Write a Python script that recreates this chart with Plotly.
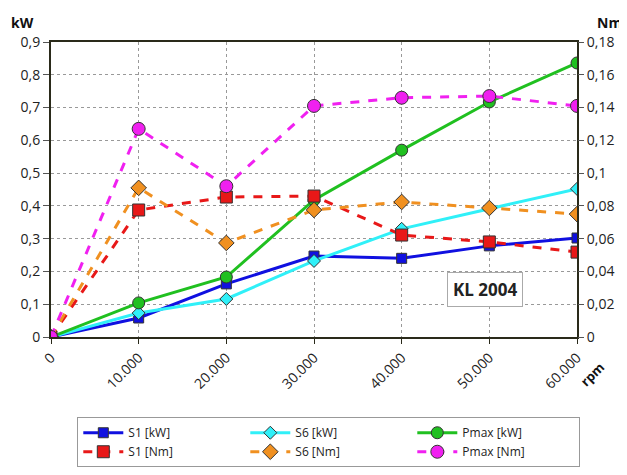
import plotly.graph_objects as go

rpm = [0, 10000, 20000, 30000, 40000, 50000, 60000]
x_ticktext = ["0", "10.000", "20.000", "30.000", "40.000", "50.000", "60.000"]

s1_kw = [0, 0.058, 0.162, 0.247, 0.240, 0.278, 0.302]
s6_kw = [0, 0.073, 0.116, 0.232, 0.330, 0.392, 0.452]
pmax_kw = [0, 0.104, 0.183, 0.418, 0.570, 0.717, 0.836]
s1_nm = [0, 0.0775, 0.0854, 0.086, 0.0622, 0.058, 0.0518]
s6_nm = [0, 0.091, 0.0574, 0.0775, 0.0824, 0.0787, 0.075]
pmax_nm = [0, 0.127, 0.092, 0.141, 0.146, 0.147, 0.141]

kw_tickvals = [0, 0.1, 0.2, 0.3, 0.4, 0.5, 0.6, 0.7, 0.8, 0.9]
kw_ticktext = ["0", "0,1", "0,2", "0,3", "0,4", "0,5", "0,6", "0,7", "0,8", "0,9"]
nm_tickvals = [0, 0.02, 0.04, 0.06, 0.08, 0.1, 0.12, 0.14, 0.16, 0.18]
nm_ticktext = ["0", "0,02", "0,04", "0,06", "0,08", "0,1", "0,12", "0,14", "0,16", "0,18"]

FONT = "Open Sans"
mk_line = dict(color="#333333", width=1)

fig = go.Figure()

def add(name, y, color, symbol, size, dash, yaxis):
    fig.add_trace(go.Scatter(
        x=rpm, y=y, name=name, mode="lines+markers", yaxis=yaxis,
        line=dict(color=color, width=3, dash=dash),
        marker=dict(symbol=symbol, size=size, color=color, line=mk_line),
    ))

add("S1 [kW]", s1_kw, "#1010e0", "square", 10, "solid", "y")
add("S6 [kW]", s6_kw, "#30f0f8", "diamond", 10, "solid", "y")
add("Pmax [kW]", pmax_kw, "#20c020", "circle", 12, "solid", "y")
add("S1 [Nm]", s1_nm, "#e81818", "square", 12, "dash", "y2")
add("S6 [Nm]", s6_nm, "#f09020", "diamond", 12, "dash", "y2")
add("Pmax [Nm]", pmax_nm, "#f020f0", "circle", 13, "dash", "y2")

fig.update_layout(
    width=619, height=467,
    margin=dict(l=43, r=50, t=34, b=138, autoexpand=False),
    paper_bgcolor="white", plot_bgcolor="white",
    font=dict(family=FONT, size=13, color="#222222"),
    showlegend=True,
    legend=dict(
        orientation="h", x=0.05, xanchor="left", y=-0.272, yanchor="top",
        entrywidth=112, entrywidthmode="pixels",
        bordercolor="#999999", borderwidth=1, bgcolor="white",
        font=dict(family=FONT, size=12, color="#222222"),
        tracegroupgap=0, itemwidth=40,
    ),
    xaxis=dict(
        range=[0, 60000], tickvals=rpm, ticktext=x_ticktext, tickangle=-45,
        showline=True, linecolor="#2a2a1a", linewidth=2, mirror=True,
        showgrid=True, gridcolor="#999999", griddash="dot", gridwidth=1,
        ticks="outside", ticklen=5, tickcolor="#2a2a1a", zeroline=False,
        tickfont=dict(size=14), automargin=False,
    ),
    yaxis=dict(
        range=[0, 0.9], tickvals=kw_tickvals, ticktext=kw_ticktext,
        showline=True, linecolor="#2a2a1a", linewidth=2, mirror=True,
        showgrid=True, gridcolor="#999999", griddash="dot", gridwidth=1,
        ticks="outside", ticklen=6, tickcolor="#555555", zeroline=False,
        tickfont=dict(size=14), automargin=False,
    ),
    yaxis2=dict(
        range=[0, 0.18], tickvals=nm_tickvals, ticktext=nm_ticktext,
        overlaying="y", side="right", showgrid=False, zeroline=False,
        ticks="outside", ticklen=6, tickcolor="#555555",
        tickfont=dict(size=14), automargin=False,
    ),
    annotations=[
        dict(text="<b>kW</b>", xref="paper", yref="paper", x=-0.08, y=1.105,
             xanchor="left", yanchor="top", showarrow=False, font=dict(size=14, color="#111111")),
        dict(text="<b>Nm</b>", xref="paper", yref="paper", x=1.09, y=1.105,
             xanchor="right", yanchor="top", showarrow=False, font=dict(size=14, color="#111111")),
        dict(text="<b>rpm</b>", xref="paper", yref="paper", x=1.065, y=-0.19,
             showarrow=False, textangle=-45, font=dict(size=13, color="#111111")),
        dict(text="<b>KL 2004</b>", xref="x", yref="y", x=49500, y=0.146,
             showarrow=False, font=dict(size=17, color="#222222"),
             bgcolor="white", bordercolor="#aaaaaa", borderwidth=1, borderpad=5),
    ],
)

fig.write_html("out.html")
